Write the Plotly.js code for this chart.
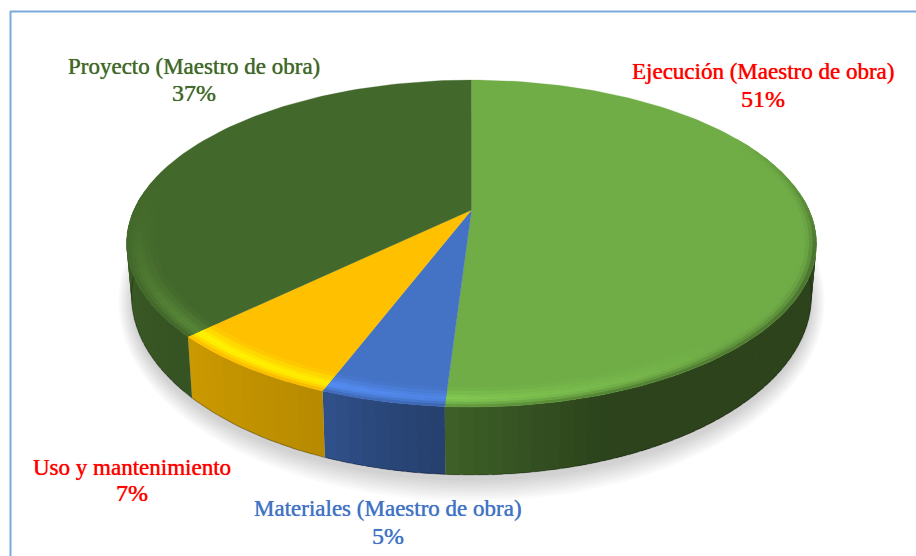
<!DOCTYPE html>
<html><head><meta charset="utf-8">
<script src="https://cdn.plot.ly/plotly-3.0.1.min.js"></script>
<style>html,body{margin:0;padding:0;background:#fff}#c{width:916px;height:556px}</style>
</head><body><div id="c"></div>
<script>
// Data, clockwise from 12 o'clock
const categories = ['Ejecución (Maestro de obra)', 'Materiales (Maestro de obra)', 'Uso y mantenimiento', 'Proyecto (Maestro de obra)'];
const percents = [51, 4.8, 7, 37.2];
const sliceColors = ['#70ad47', '#4472c4', '#ffc000', '#43682b'];
const labelColors = ['#ff0000', '#4472c4', '#ff0000', '#43682b'];
const labelX = [763, 388, 132, 194];
const nameY = [71, 508, 467, 66];
const percentY = [99, 536, 493, 93];

// Projection of the tilted disc
const apexX = 471.5, apexY = 210, persp = 0.205, scaleX = 337.7, scaleY = 156.6;
const topCY = 243.5, topRY = 163.5, topRX = 345;
const botCY = 296, botRY = 179, botRX = 340;

// Shading stops [angle, value]
const wallShade = [[80,.39],[162,.39],[184,.56],[192,.62],[202,.72],[227,.8],[250,.85],[290,.85]];
const rimLight = [[0,0],[140,0],[170,.12],[200,.25],[230,.3],[250,.14],[268,.02],[285,0],[360,0]];
const rimDark = [[0,0],[60,0],[85,.22],[105,.42],[160,.32],[190,.12],[230,.03],[262,0],[360,0]];
const rimBands = [.92,.935,.95,.96,.97,.98,.99,1];

function stop(tbl, a){
  if(a<=tbl[0][0]) return tbl[0][1];
  for(let i=1;i<tbl.length;i++){ if(a<=tbl[i][0]){
    const t=(a-tbl[i-1][0])/(tbl[i][0]-tbl[i-1][0]); return tbl[i-1][1]+t*(tbl[i][1]-tbl[i-1][1]); } }
  return tbl[tbl.length-1][1];
}
function proj(deg,r){
  const t=deg*Math.PI/180, s=r*Math.sin(t), c=r*Math.cos(t), w=1+persp*c;
  return [apexX+scaleX*s/w, apexY-scaleY*c/w];
}
function drop(p){
  return [apexX+(p[0]-apexX)*botRX/topRX, botCY+botRY*(p[1]-topCY)/topRY];
}
function rgb(hex){ return [1,3,5].map(i=>parseInt(hex.substr(i,2),16)); }
function shade(hex,f){ return 'rgb('+rgb(hex).map(v=>Math.max(0,Math.min(255,Math.round(v*f)))).join(',')+')'; }
function poly(pts,fill,lw){
  return {type:'scatter',mode:'lines',x:pts.map(p=>p[0]),y:pts.map(p=>p[1]),fill:'toself',fillcolor:fill,
    line:{color:fill,width:lw===undefined?0:lw},hoverinfo:'skip',showlegend:false};
}

const total = percents.reduce((a,b)=>a+b,0);
const spans=[]; let acc=0;
percents.forEach(v=>{ const a0=acc/total*360; acc+=v; spans.push([a0,acc/total*360]); });

const shadows=[], walls=[], tops=[], rims=[];

// Soft floor shadow
for(let e=24;e>=0;e-=3){
  const pts=[];
  for(let a=0;a<=360;a+=3){ const t=a*Math.PI/180;
    pts.push([apexX+(botRX+e*.55)*Math.sin(t), botCY+6+(botRY+e*.85)*Math.cos(t)]); }
  shadows.push(poly(pts,'rgba(0,0,0,0.02)',0));
}

spans.forEach((sp,i)=>{
  const [a0,a1]=sp, col=sliceColors[i];
  // side wall strips; each overlaps the next so that no seams show
  const wa0=Math.max(a0,85), wa1=Math.min(a1,275);
  if(wa1>wa0){
    const n=Math.ceil((wa1-wa0)/2);
    for(let k=0;k<n;k++){
      const p=wa0+(wa1-wa0)*k/n, q=Math.min(wa1,wa0+(wa1-wa0)*(k+1)/n+1.5);
      const pts=[]; for(let j=0;j<=3;j++) pts.push(proj(p+(q-p)*j/3,1));
      const bot=pts.slice().reverse().map(drop);
      walls.push(poly(pts.concat(bot),shade(col,stop(wallShade,p+1))));
    }
    // dark hairline along the foot of the wall
    const foot=[]; for(let j=0;j<=30;j++) foot.push(drop(proj(wa0+(wa1-wa0)*j/30,1)));
    walls.push({type:'scatter',mode:'lines',x:foot.map(p=>p[0]),y:foot.map(p=>p[1]),
      line:{color:'rgba(0,0,0,0.25)',width:1.2},hoverinfo:'skip',showlegend:false});
  }
  // top face
  const face=[[apexX,apexY]], m=Math.ceil((a1-a0)/1.5);
  for(let k=0;k<=m;k++) face.push(proj(a0+(a1-a0)*k/m,1));
  tops.push(poly(face,col,0.3));
  // bevelled rim: inner to outer, each piece overlaps the following ones
  const ra0=Math.max(a0,60), ra1=Math.min(a1,285);
  if(ra1>ra0){
    const n=Math.ceil((ra1-ra0)/3);
    for(let b=0;b<rimBands.length-1;b++){
      const r0=rimBands[b], r1=rimBands[b+1], rm=(r0+r1)/2;
      for(let k=0;k<n;k++){
        const p=ra0+(ra1-ra0)*k/n, qBase=ra0+(ra1-ra0)*(k+1)/n, q=Math.min(ra1,qBase+1.2), mid=(p+qBase)/2;
        const L=stop(rimLight,mid), D=stop(rimDark,mid);
        const bump=rm<.97?(rm-.92)/.05:Math.max(0,1-(rm-.97)/.03);
        const edge=Math.pow(Math.max(0,(rm-.96)/.04),2);
        const f=1+L*bump-D*edge;
        const rOut=b<rimBands.length-2?r1+.005:r1;
        rims.push(poly([proj(p,r0),proj((p+q)/2,r0),proj(q,r0),proj(q,rOut),proj((p+q)/2,rOut),proj(p,rOut)],shade(col,f),0));
      }
    }
  }
});

function labelFont(i,size){
  return {family:'"Liberation Serif", serif',size:size,color:labelColors[i],shadow:'0 0 0.7px '+labelColors[i]};
}
const annotations=[];
categories.forEach((c,i)=>{
  annotations.push({x:labelX[i],y:nameY[i],xref:'x',yref:'y',text:c,showarrow:false,xanchor:'center',yanchor:'middle',font:labelFont(i,23)});
  annotations.push({x:labelX[i],y:percentY[i],xref:'x',yref:'y',text:Math.round(percents[i])+'%',showarrow:false,xanchor:'center',yanchor:'middle',font:labelFont(i,24)});
});

const layout={
  width:916,height:556,margin:{l:0,r:0,t:0,b:0},paper_bgcolor:'#fff',plot_bgcolor:'#fff',showlegend:false,
  xaxis:{range:[0,916],visible:false,fixedrange:true},
  yaxis:{range:[556,0],visible:false,fixedrange:true},
  annotations,
  shapes:[
    {type:'line',xref:'x',yref:'y',x0:10,x1:916,y0:11.5,y1:11.5,line:{color:'#7aa9dc',width:2}},
    {type:'line',xref:'x',yref:'y',x0:10.5,x1:10.5,y0:11,y1:556,line:{color:'#7aa9dc',width:2}}
  ]
};
Plotly.newPlot('c',shadows.concat(walls,tops,rims),layout,{displayModeBar:false,staticPlot:true});
</script></body></html>
